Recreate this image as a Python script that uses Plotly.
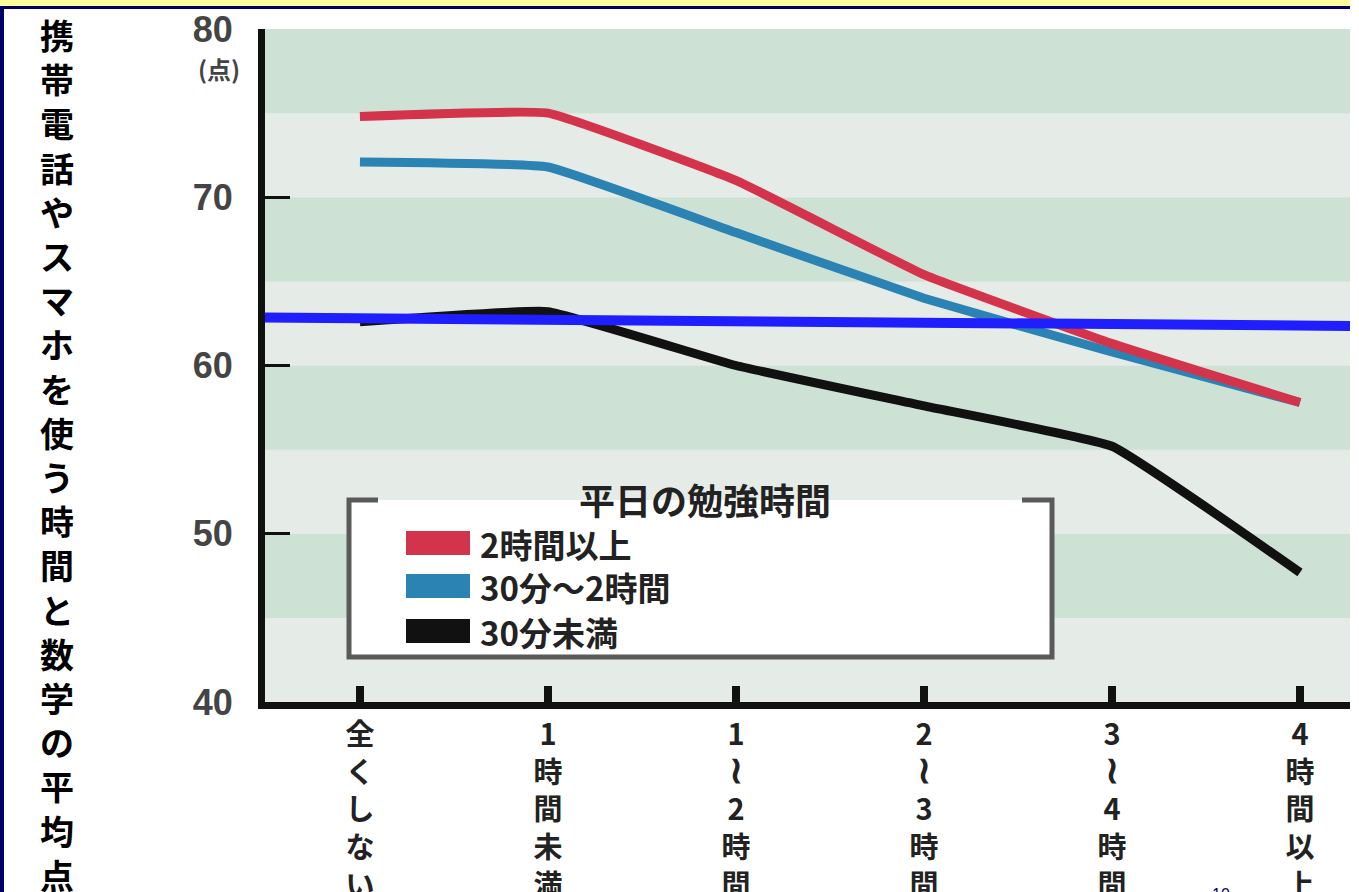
import plotly.graph_objects as go

# ---------------- data ----------------
categories = ["全くしない", "1時間未満", "1≀2時間", "2≀3時間", "3≀4時間", "4時間以上"]
series_names = ["2時間以上", "30分〜2時間", "30分未満"]
series_colors = ["#d4344b", "#2a83b3", "#111111"]
score_2h_plus = [74.8, 75.0, 71.0, 65.4, 61.3, 57.8]
score_30m_2h = [72.1, 71.8, 67.9, 64.0, 60.8, 57.8]
score_under_30m = [62.6, 63.2, 60.0, 57.6, 55.2, 47.7]
series_values = [score_2h_plus, score_30m_2h, score_under_30m]
y_tick_values = [40, 50, 60, 70, 80]
y_tick_labels = ["40", "50", "60", "70", "80"]
ref_line_values = [62.85, 62.35]   # hand-drawn blue line (left end, right end)
band_edges = [40, 45, 50, 55, 60, 65, 70, 75, 80]
legend_title = "平日の勉強時間"
y_title = "携帯電話やスマホを使う時間と数学の平均点"
unit_label = "(点)"
page_number = "10"

# ---------------- geometry helpers ----------------
W, H = 1359, 892
L, R, T, B = 265, 9, 29, 190
PW = W - L - R
PH = H - T - B


def px(xp):
    return (xp - L) / PW


def py(yp):
    return (H - B - yp) / PH


def vertical(label):
    parts = []
    for ch in label:
        if ch == "≀":
            parts.append('<span style="font-size:38px">≀</span>')
        else:
            parts.append(ch)
    return "<br>".join(parts)


JP = "Noto Sans CJK JP"
fig = go.Figure()

x_idx = list(range(len(categories)))
# draw black, blue, then red on top
for i in [2, 1, 0]:
    fig.add_trace(go.Scatter(
        x=x_idx, y=series_values[i], mode="lines", name=series_names[i],
        line=dict(color=series_colors[i], width=9, shape="spline", smoothing=0.3),
        showlegend=False, hoverinfo="skip",
    ))

shapes = []
# background bands
for k in range(len(band_edges) - 1):
    col = "#cde2d5" if k % 2 == 1 else "#e5ebe7"
    shapes.append(dict(type="rect", xref="paper", yref="y", x0=0, x1=1,
                       y0=band_edges[k], y1=band_edges[k + 1],
                       fillcolor=col, line=dict(width=0), layer="below"))

# slide frame
shapes.append(dict(type="rect", xref="paper", yref="paper", x0=px(0), x1=px(1350),
                   y0=py(0), y1=py(6), fillcolor="#ffff99", line=dict(width=0), layer="above"))
shapes.append(dict(type="rect", xref="paper", yref="paper", x0=px(0), x1=px(1350),
                   y0=py(6), y1=py(9), fillcolor="#000066", line=dict(width=0), layer="above"))
shapes.append(dict(type="rect", xref="paper", yref="paper", x0=px(0), x1=px(4),
                   y0=py(6), y1=py(H + 40), fillcolor="#000066", line=dict(width=0), layer="above"))

# legend box
shapes.append(dict(type="rect", xref="paper", yref="paper", x0=px(349), x1=px(1052),
                   y0=py(657), y1=py(500), fillcolor="white", line=dict(width=0), layer="above"))
path = "M {a},{b} L {c},{b} L {c},{d} L {e},{d} L {e},{b} L {f},{b}".format(
    a=px(378), b=py(500), c=px(349), d=py(657), e=px(1052), f=px(1022))
shapes.append(dict(type="path", xref="paper", yref="paper", path=path,
                   line=dict(color="#5a5a5a", width=5), layer="above"))
entry_y = [543, 586, 631]
for i, yc in enumerate(entry_y):
    shapes.append(dict(type="rect", xref="paper", yref="paper", x0=px(406), x1=px(470),
                       y0=py(yc + 12), y1=py(yc - 12), fillcolor=series_colors[i],
                       line=dict(width=0), layer="above"))

# hand-drawn blue reference line
shapes.append(dict(type="line", xref="paper", yref="y", x0=0, x1=1,
                   y0=ref_line_values[0], y1=ref_line_values[1],
                   line=dict(color="#1e1eff", width=10), layer="above"))

annotations = []
annotations.append(dict(text=legend_title, xref="paper", yref="paper", x=px(705), y=py(499),
                        xanchor="center", yanchor="middle", showarrow=False,
                        font=dict(family=JP, size=36, color="#222", weight="bold")))
for i, yc in enumerate(entry_y):
    annotations.append(dict(text=series_names[i], xref="paper", yref="paper", x=px(478), y=py(yc + 1),
                            xanchor="left", yanchor="middle", showarrow=False,
                            font=dict(family=JP, size=33, color="#222", weight="bold")))
# vertical y-axis title
annotations.append(dict(text="<br>".join(list(y_title)), xref="paper", yref="paper",
                        x=px(57), y=py(8), xanchor="center", yanchor="top", showarrow=False,
                        font=dict(family=JP, size=34, color="#000", weight="bold")))
# unit label
annotations.append(dict(text=unit_label, xref="paper", yref="paper", x=px(242), y=py(68),
                        xanchor="right", yanchor="middle", showarrow=False,
                        font=dict(family=JP, size=24, color="#444", weight="bold")))
# page number
annotations.append(dict(text=page_number, xref="paper", yref="paper", x=px(1221), y=py(884),
                        xanchor="center", yanchor="top", showarrow=False,
                        font=dict(family="Liberation Sans", size=16, color="#000066")))

fig.update_layout(
    width=W, height=H,
    margin=dict(l=L, r=R, t=T, b=B, pad=0),
    paper_bgcolor="white", plot_bgcolor="#e5ebe7",
    shapes=shapes, annotations=annotations,
    showlegend=False,
)
fig.update_xaxes(
    range=[-0.505, 5.266], tickmode="array", tickvals=x_idx,
    ticktext=[vertical(c) for c in categories],
    ticks="inside", ticklen=16, tickwidth=8, tickcolor="#111",
    showline=True, linecolor="#111", linewidth=7,
    showgrid=False, zeroline=False, ticklabelstandoff=1, automargin=False,
    tickfont=dict(family=JP, size=29, color="#222", weight="bold"),
)
fig.update_yaxes(
    range=[40, 80], tickmode="array", tickvals=y_tick_values, ticktext=y_tick_labels,
    ticks="inside", ticklen=25, tickwidth=3, tickcolor="#111",
    showline=True, linecolor="#111", linewidth=7,
    showgrid=False, zeroline=False, ticklabelstandoff=18, automargin=False,
    tickfont=dict(family="Liberation Sans", size=36, color="#444", weight="bold"),
)

fig.write_html("out.html")
